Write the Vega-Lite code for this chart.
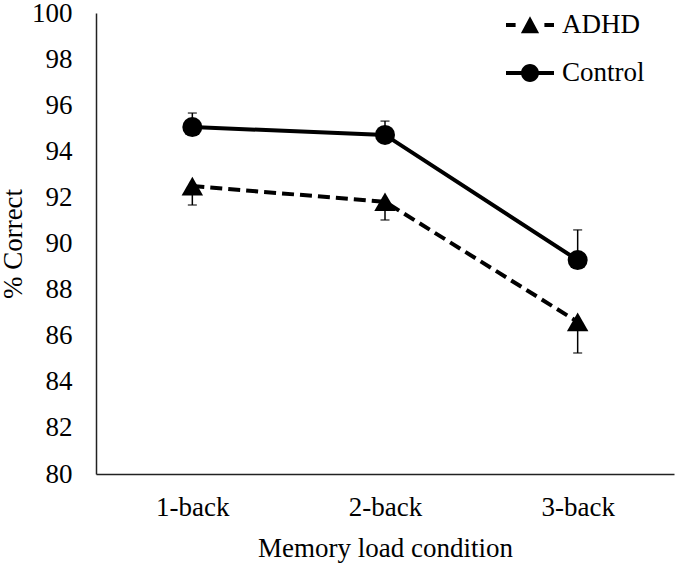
{
  "$schema": "https://vega.github.io/schema/vega-lite/v6.json",
  "width": 578,
  "height": 461,
  "autosize": {"type": "none"},
  "padding": {"left": 96, "top": 13, "right": 1, "bottom": 89},
  "background": "white",
  "config": {
    "font": "Liberation Serif",
    "view": {"stroke": null},
    "axis": {
      "grid": false,
      "ticks": false,
      "tickSize": 0,
      "domainColor": "#222222",
      "domainWidth": 1.5,
      "labelFont": "Liberation Serif",
      "labelFontSize": 27,
      "labelColor": "black",
      "titleFont": "Liberation Serif",
      "titleFontSize": 27,
      "titleFontWeight": "normal",
      "titleColor": "black"
    }
  },
  "data": {
    "values": [
      {"group": "ADHD", "load": "1-back", "mean": 92.49, "cap": 91.67},
      {"group": "ADHD", "load": "2-back", "mean": 91.81, "cap": 91.02},
      {"group": "ADHD", "load": "3-back", "mean": 86.6, "cap": 85.25},
      {"group": "Control", "load": "1-back", "mean": 95.05, "cap": 95.66},
      {"group": "Control", "load": "2-back", "mean": 94.71, "cap": 95.31},
      {"group": "Control", "load": "3-back", "mean": 89.28, "cap": 90.59}
    ]
  },
  "encoding": {
    "x": {
      "field": "load",
      "type": "ordinal",
      "title": "Memory load condition",
      "scale": {"type": "point", "padding": 0.5},
      "axis": {
        "labelAngle": 0,
        "labelPadding": 33,
        "labelBaseline": "middle",
        "titleY": 74,
        "titleBaseline": "middle"
      }
    }
  },
  "layer": [
    {
      "mark": {"type": "rule", "strokeWidth": 1.5, "color": "black"},
      "encoding": {
        "y": {
          "field": "mean",
          "type": "quantitative",
          "title": "% Correct",
          "scale": {"domain": [80, 100], "nice": false, "zero": false},
          "axis": {
            "values": [80, 82, 84, 86, 88, 90, 92, 94, 96, 98, 100],
            "labelPadding": 24,
            "titleX": -83,
            "titleY": 230.5,
            "titleAngle": -90,
            "titleBaseline": "middle"
          }
        },
        "y2": {"field": "cap"}
      }
    },
    {
      "mark": {"type": "tick", "thickness": 1.5, "size": 9, "color": "black"},
      "encoding": {
        "y": {"field": "cap", "type": "quantitative", "title": "% Correct"}
      }
    },
    {
      "transform": [{"filter": "datum.group === 'ADHD'"}],
      "mark": {"type": "line", "strokeWidth": 4, "color": "black", "strokeDash": [12, 6]},
      "encoding": {
        "y": {"field": "mean", "type": "quantitative", "title": "% Correct"}
      }
    },
    {
      "transform": [{"filter": "datum.group === 'Control'"}],
      "mark": {"type": "line", "strokeWidth": 4, "color": "black"},
      "encoding": {
        "y": {"field": "mean", "type": "quantitative", "title": "% Correct"}
      }
    },
    {
      "transform": [{"filter": "datum.group === 'ADHD'"}],
      "mark": {"type": "point", "shape": "triangle-up", "filled": true, "opacity": 1, "color": "black", "size": 460},
      "encoding": {
        "y": {"field": "mean", "type": "quantitative", "title": "% Correct"}
      }
    },
    {
      "transform": [{"filter": "datum.group === 'Control'"}],
      "mark": {"type": "point", "shape": "circle", "filled": true, "opacity": 1, "color": "black", "size": 400},
      "encoding": {
        "y": {"field": "mean", "type": "quantitative", "title": "% Correct"}
      }
    },
    {
      "mark": {"type": "point", "filled": true, "opacity": 0, "color": "black", "size": 10},
      "encoding": {
        "y": {"field": "mean", "type": "quantitative", "title": "% Correct"},
        "shape": {
          "field": "group",
          "type": "nominal",
          "scale": {
            "domain": ["ADHD", "Control"],
            "range": [
              "M-1,-0.08H-0.6V0.08H-1ZM0.6,-0.08H1V0.08H0.6ZM-0.38,0.34L0,-0.36L0.38,0.34Z",
              "M-1,-0.08H1V0.08H-1ZM0.375,0A0.375,0.375,0,1,1,-0.375,0A0.375,0.375,0,1,1,0.375,0Z"
            ]
          },
          "legend": {
            "title": null,
            "orient": "none",
            "legendX": 409,
            "legendY": -13,
            "padding": 0,
            "symbolSize": 2304,
            "symbolOpacity": 1,
            "symbolFillColor": "black",
            "labelFont": "Liberation Serif",
            "labelFontSize": 27,
            "labelColor": "black",
            "labelOffset": 7,
            "rowPadding": 10
          }
        }
      }
    }
  ]
}
